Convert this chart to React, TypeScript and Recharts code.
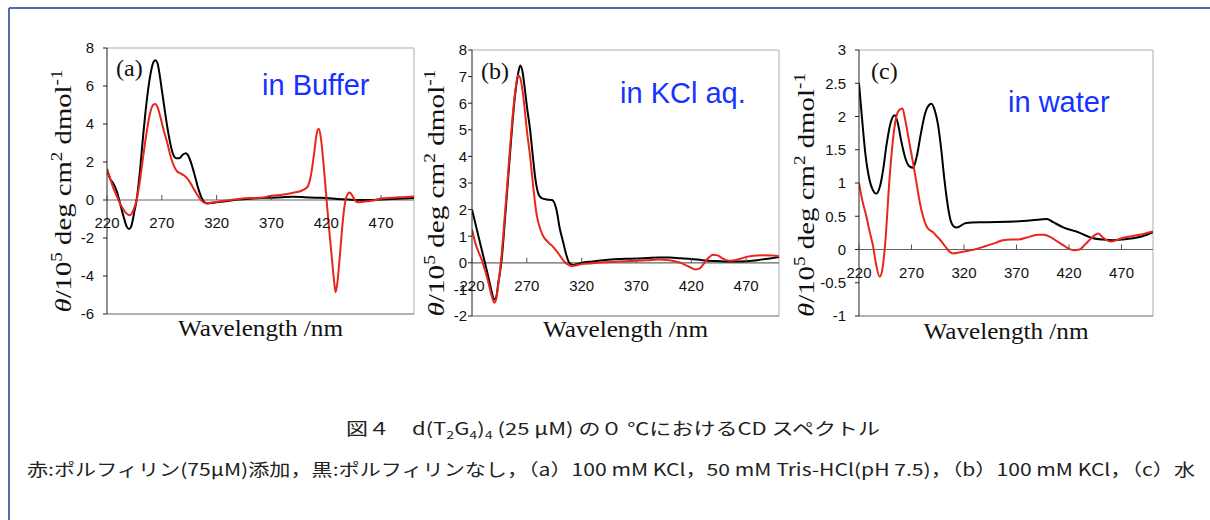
import React from 'react';
import { LineChart, Line, XAxis, YAxis, ReferenceLine } from 'recharts';

type Pt = [number, number];

const wavelengthTicks = [220, 270, 320, 370, 420, 470];
const bufferTicks = [-6, -4, -2, 0, 2, 4, 6, 8];
const kclTicks = [-2, -1, 0, 1, 2, 3, 4, 5, 6, 7, 8];
const waterTicks = [-1, -0.5, 0, 0.5, 1, 1.5, 2, 2.5, 3];

// (a) in Buffer
const bufferBlack: Pt[] = [
  [220, 1.55], [223, 1.1], [226, 0.85], [229, 0.45], [232, -0.2], [235, -0.85], [238, -1.4], [240, -1.53],
  [242, -1.4], [245, -0.6], [247, 0.0], [250, 1.5], [253, 3.4], [256, 5.1], [259, 6.4], [262, 7.2], [264, 7.35],
  [266, 7.2], [268, 6.6], [270, 5.8], [272, 5.0], [274, 4.2], [276, 3.5], [278, 2.9], [280, 2.45], [283, 2.2],
  [286, 2.2], [289, 2.38], [292, 2.46], [294, 2.35], [297, 1.9], [300, 1.3], [303, 0.65], [306, 0.15], [309, -0.12],
  [312, -0.18], [316, -0.15], [320, -0.12], [330, -0.05], [340, 0.02], [350, 0.07], [360, 0.1], [370, 0.12],
  [380, 0.15], [390, 0.17], [400, 0.15], [410, 0.12], [420, 0.1], [430, 0.05], [440, 0.02], [450, 0.0],
  [460, 0.0], [470, 0.03], [480, 0.05], [490, 0.08], [500, 0.1],
];
const bufferRed: Pt[] = [
  [220, 1.65], [223, 1.1], [226, 0.6], [229, 0.2], [232, -0.2], [235, -0.5], [238, -0.72], [241, -0.8],
  [244, -0.55], [247, 0.0], [250, 1.0], [253, 2.3], [256, 3.5], [259, 4.5], [262, 5.0], [264, 5.05], [266, 4.9],
  [269, 4.3], [272, 3.6], [275, 3.0], [278, 2.3], [281, 1.8], [284, 1.5], [287, 1.4], [290, 1.3], [293, 1.15],
  [296, 0.9], [299, 0.6], [302, 0.3], [305, 0.05], [308, -0.12], [311, -0.18], [315, -0.15], [320, -0.1],
  [330, -0.02], [340, 0.05], [350, 0.1], [360, 0.12], [370, 0.22], [380, 0.28], [390, 0.38], [398, 0.5],
  [403, 0.7], [406, 1.3], [409, 2.5], [411, 3.4], [413, 3.75], [415, 3.3], [417, 2.2], [419, 0.9], [421, -0.5],
  [423, -1.8], [425, -3.0], [427, -4.2], [428.5, -4.85], [430, -4.4], [432, -3.2], [434, -1.8], [436, -0.6],
  [438, 0.1], [440, 0.35], [441.5, 0.4], [443, 0.3], [445, 0.1], [447, -0.08], [450, -0.12], [455, -0.08],
  [460, -0.05], [465, 0.0], [470, 0.08], [480, 0.12], [490, 0.15], [500, 0.18],
];

// (b) in KCl aq.
const kclBlack: Pt[] = [
  [220, 2.0], [225, 1.15], [230, 0.3], [235, -0.55], [238, -1.1], [240, -1.38], [242, -1.3], [244, -0.75],
  [247, 0.1], [250, 1.6], [253, 3.2], [256, 4.8], [259, 6.2], [262, 7.1], [264, 7.42], [266, 7.2], [268, 6.6],
  [270, 5.9], [273, 5.0], [275.5, 4.0], [278, 3.1], [281, 2.55], [284, 2.42], [288, 2.38], [293, 2.36],
  [297, 2.0], [300, 1.3], [303, 0.8], [306, 0.3], [309, -0.02], [312, -0.08], [316, -0.05], [320, 0.0],
  [330, 0.05], [340, 0.1], [350, 0.13], [360, 0.15], [370, 0.16], [380, 0.18], [390, 0.2], [400, 0.2],
  [410, 0.17], [420, 0.14], [430, 0.1], [440, 0.07], [450, 0.05], [460, 0.05], [470, 0.06], [480, 0.1],
  [490, 0.15], [500, 0.22],
];
const kclRed: Pt[] = [
  [220, 1.25], [223, 0.75], [226, 0.4], [229, 0.1], [232, -0.3], [235, -0.75], [238, -1.25], [240.3, -1.5],
  [242, -1.38], [244, -0.8], [247, 0.3], [250, 1.8], [253, 3.4], [256, 5.0], [259, 6.3], [262, 7.05],
  [264, 6.95], [266, 6.5], [268, 5.8], [270, 5.0], [273, 4.0], [276, 2.8], [279, 1.8], [282, 1.3], [285, 1.0],
  [290, 0.75], [294, 0.6], [297, 0.45], [300, 0.28], [304, 0.05], [308, -0.08], [311, -0.12], [320, -0.05],
  [330, -0.02], [340, 0.02], [350, 0.04], [360, 0.06], [370, 0.08], [380, 0.1], [390, 0.12], [400, 0.1],
  [410, 0.0], [418, -0.15], [424, -0.25], [428, -0.2], [432, 0.0], [436, 0.2], [440, 0.3], [444, 0.28],
  [448, 0.18], [452, 0.1], [456, 0.08], [460, 0.1], [465, 0.15], [470, 0.22], [475, 0.26], [485, 0.28],
  [495, 0.27], [500, 0.25],
];

// (c) in water
const waterBlack: Pt[] = [
  [220, 2.5], [223, 1.95], [226, 1.45], [230, 1.05], [233, 0.9], [236.5, 0.84], [240, 0.95], [243, 1.2],
  [246, 1.55], [250, 1.9], [254, 2.02], [257, 1.9], [260, 1.65], [264, 1.38], [268, 1.25], [271.5, 1.23],
  [275, 1.4], [279, 1.75], [283, 2.05], [286, 2.16], [289, 2.19], [292, 2.1], [295, 1.9], [298, 1.55],
  [301, 1.1], [304, 0.72], [307, 0.45], [310, 0.35], [313, 0.33], [322, 0.4], [340, 0.41], [367, 0.42],
  [385, 0.44], [399, 0.46], [405, 0.41], [415, 0.33], [427, 0.27], [443, 0.17], [452, 0.15], [462, 0.14],
  [470, 0.15], [481, 0.17], [490, 0.2], [500, 0.26],
];
const waterRed: Pt[] = [
  [220, 1.0], [223, 0.75], [227, 0.5], [230, 0.28], [233.4, 0.05], [236, -0.2], [239.7, -0.41], [242, -0.32],
  [245, 0.1], [249, 1.05], [252, 1.6], [255.6, 2.0], [258.5, 2.1], [261.4, 2.12], [264, 1.95], [268, 1.6],
  [271.5, 1.3], [275, 0.98], [278, 0.7], [281, 0.5], [284.3, 0.35], [287.5, 0.29], [290.6, 0.26], [294, 0.2],
  [297, 0.15], [300, 0.09], [303, 0.03], [306, -0.03], [310, -0.06], [314, -0.05], [320, -0.03], [330, 0.0],
  [340, 0.05], [350, 0.1], [357, 0.14], [365, 0.15], [372, 0.15], [380, 0.18], [390, 0.22], [396, 0.22],
  [402, 0.19], [408, 0.13], [414, 0.07], [420, 0.01], [425, -0.01], [430, 0.0], [435, 0.07], [440, 0.15],
  [445, 0.22], [448, 0.24], [451, 0.2], [455, 0.15], [460, 0.12], [465, 0.14], [470, 0.17], [480, 0.2],
  [490, 0.23], [500, 0.27],
];

const panelLabels = ['(a)', '(b)', '(c)'];
const panelTitles = ['in Buffer', 'in KCl aq.', 'in water'];
const xTitle = 'Wavelength /nm';
const captionLine2 =
  '赤:ポルフィリン(75μM)添加，黒:ポルフィリンなし，（a）100 mM KCl，50 mM Tris-HCl(pH 7.5)，（b）100 mM KCl，（c）水';

const RED = '#e8261c';
const SANS = "'Liberation Sans', Arial, sans-serif";
const SERIF = "'Liberation Serif', 'Times New Roman', serif";
const CJK = "'Noto Sans CJK JP', sans-serif";

const rows = (pts: Pt[]) => pts.map(([x, y]) => ({ x, y }));

function ZeroTick(props: any) {
  const { x, payload, zeroY } = props;
  return (
    <g>
      <line x1={x} x2={x} y1={zeroY} y2={zeroY - 5} stroke="#555" strokeWidth={1} />
      <text x={x} y={zeroY + 28} textAnchor="middle" fontSize={15} fontFamily={SANS} fill="#111">
        {payload.value}
      </text>
    </g>
  );
}

function YTitle(props: any) {
  const { tx, ty, len } = props;
  return (
    <text
      transform={`translate(${tx},${ty}) rotate(-90)`}
      textAnchor="middle"
      fontFamily={SERIF}
      fontSize={24}
      fill="#111"
      textLength={len}
      lengthAdjust="spacingAndGlyphs"
    >
      <tspan fontStyle="italic">θ</tspan>
      <tspan>/10</tspan>
      <tspan dy={-9} fontSize={16}>5</tspan>
      <tspan dy={9}> deg cm</tspan>
      <tspan dy={-9} fontSize={16}>2</tspan>
      <tspan dy={9}> dmol</tspan>
      <tspan dy={-9} fontSize={16}>-1</tspan>
    </text>
  );
}

function XTitle(props: any) {
  const { tx, ty } = props;
  return (
    <text x={tx} y={ty} textAnchor="middle" fontFamily={SERIF} fontSize={24} fill="#111" textLength={165} lengthAdjust="spacingAndGlyphs">
      {xTitle}
    </text>
  );
}

type PanelCfg = {
  left: number;
  width: number;
  top: number;
  plotLeft: number;
  plotRight: number;
  plotBottom: number;
  yMin: number;
  yMax: number;
  yTicks: number[];
  tickMargin: number;
  yTitleX: number;
  yTitleY: number;
  yTitleLen: number;
  xTitleY: number;
  black: Pt[];
  red: Pt[];
};

const H = 360;

function Panel({ c }: { c: PanelCfg }) {
  const plotH = c.plotBottom - c.top;
  const zeroY = c.top + (plotH * c.yMax) / (c.yMax - c.yMin);
  const xCenter = (c.plotLeft + c.plotRight) / 2 - c.left;
  return (
    <div style={{ position: 'absolute', left: c.left, top: 0, width: c.width, height: H }}>
      <LineChart
        width={c.width}
        height={H}
        margin={{ top: c.top, right: c.left + c.width - c.plotRight, bottom: 0, left: 0 }}
      >
        <XAxis
          type="number"
          dataKey="x"
          domain={[220, 500]}
          ticks={wavelengthTicks}
          interval={0}
          allowDataOverflow
          axisLine={false}
          tickLine={false}
          height={H - c.plotBottom}
          tick={<ZeroTick zeroY={zeroY} />}
          label={<XTitle tx={xCenter} ty={c.xTitleY} />}
        />
        <YAxis
          type="number"
          domain={[c.yMin, c.yMax]}
          ticks={c.yTicks}
          interval={0}
          allowDataOverflow
          width={c.plotLeft - c.left}
          axisLine={{ stroke: '#222', strokeWidth: 1 }}
          tickLine={{ stroke: '#222' }}
          tickSize={4}
          tickMargin={c.tickMargin}
          tick={{ fontSize: 15, fill: '#111', fontFamily: SANS }}
          label={<YTitle tx={c.yTitleX - c.left} ty={c.yTitleY} len={c.yTitleLen} />}
        />
        <ReferenceLine y={c.yMax} stroke="#c8c8c8" strokeWidth={1.5} />
        <ReferenceLine x={500} stroke="#c8c8c8" strokeWidth={1.5} />
        <ReferenceLine y={c.yMin} stroke="#999" strokeWidth={1.5} />
        <ReferenceLine y={0} stroke="#666" strokeWidth={1.2} />
        <Line
          data={rows(c.black)}
          dataKey="y"
          type="monotone"
          stroke="#000"
          strokeWidth={2}
          dot={false}
          isAnimationActive={false}
        />
        <Line
          data={rows(c.red)}
          dataKey="y"
          type="monotone"
          stroke={RED}
          strokeWidth={2}
          dot={false}
          isAnimationActive={false}
        />
      </LineChart>
    </div>
  );
}

const panels: PanelCfg[] = [
  {
    left: 0, width: 418, top: 48, plotLeft: 107, plotRight: 414, plotBottom: 314,
    yMin: -6, yMax: 8, yTicks: bufferTicks, tickMargin: 9,
    yTitleX: 71, yTitleY: 191, yTitleLen: 243, xTitleY: 336, black: bufferBlack, red: bufferRed,
  },
  {
    left: 418, width: 372, top: 50, plotLeft: 472, plotRight: 779, plotBottom: 316,
    yMin: -2, yMax: 8, yTicks: kclTicks, tickMargin: 1,
    yTitleX: 444, yTitleY: 193, yTitleLen: 247, xTitleY: 337, black: kclBlack, red: kclRed,
  },
  {
    left: 790, width: 420, top: 50, plotLeft: 859, plotRight: 1153, plotBottom: 316,
    yMin: -1, yMax: 3, yTicks: waterTicks, tickMargin: 9,
    yTitleX: 814, yTitleY: 195, yTitleLen: 244, xTitleY: 339, black: waterBlack, red: waterRed,
  },
];

const labelPos = [
  { lx: 116, ly: 76, tx: 262, ty: 95 },
  { lx: 481, ly: 79, tx: 620, ty: 103 },
  { lx: 871, ly: 79, tx: 1008, ty: 112 },
];

export default function App() {
  return (
    <div style={{ position: 'absolute', left: 0, top: 0, width: 1210, height: 520, background: '#fff', overflow: 'hidden' }}>
      {panels.map((p, i) => (
        <Panel key={i} c={p} />
      ))}
      <svg
        width={1210}
        height={520}
        style={{ position: 'absolute', left: 0, top: 0, pointerEvents: 'none' }}
      >
        <line x1={9} y1={8} x2={1210} y2={8} stroke="#4a70a6" strokeWidth={2} />
        <line x1={9} y1={8} x2={9} y2={520} stroke="#4a70a6" strokeWidth={2} />
        {labelPos.map((l, i) => (
          <g key={i}>
            <text x={l.lx} y={l.ly} fontFamily={SERIF} fontSize={24} fill="#111">
              {panelLabels[i]}
            </text>
            <text x={l.tx} y={l.ty} fontFamily={SANS} fontSize={29} fill="#1433ff">
              {panelTitles[i]}
            </text>
          </g>
        ))}
        <text x={346} y={435} fontFamily={CJK} fontSize={17} fill="#222" textLength={534} lengthAdjust="spacingAndGlyphs">
          <tspan>図４　d(T</tspan>
          <tspan fontSize={11} dy={4}>2</tspan>
          <tspan dy={-4}>G</tspan>
          <tspan fontSize={11} dy={4}>4</tspan>
          <tspan dy={-4}>)</tspan>
          <tspan fontSize={11} dy={4}>4</tspan>
          <tspan dy={-4}> (25 μM) の０ ℃におけるCD スペクトル</tspan>
        </text>
        <text x={27} y={476} fontFamily={CJK} fontSize={17} fill="#222" textLength={1168} lengthAdjust="spacingAndGlyphs">
          {captionLine2}
        </text>
      </svg>
    </div>
  );
}
